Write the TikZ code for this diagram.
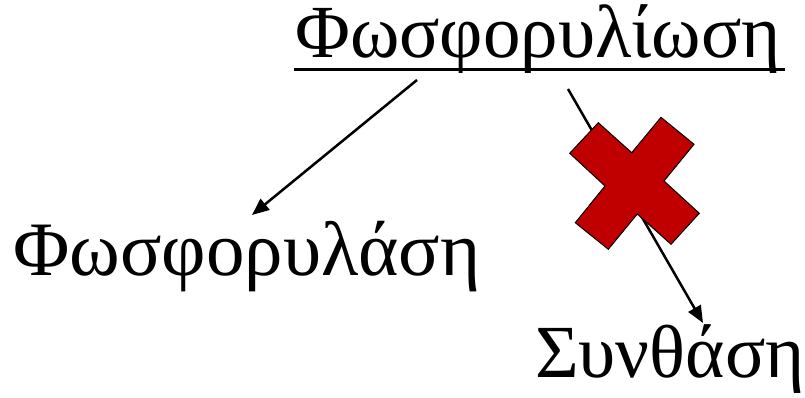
\documentclass[tikz,border=0pt]{standalone}
\usepackage{fontspec}
\setmainfont{Liberation Serif}
\usetikzlibrary{arrows.meta}
\definecolor{xred}{HTML}{C00000}
\tikzset{
  lbl/.style={inner sep=0pt, anchor=base west},
  conn/.style={line width=2.5pt, -{Triangle[length=17pt,width=14pt]}},
  cross/.style={fill=xred, draw=black, line width=1pt, line join=miter}
}
\begin{document}
\begin{tikzpicture}[x=1pt,y=1pt]
\useasboundingbox (0,0) rectangle (805,398);
% texts
\node[lbl, font=\fontsize{75}{86}\selectfont, text height=54pt, text depth=17pt] (t) at (295,340) {Φωσφορυλίωση};
\draw[line width=3pt] (294,328.5) -- (785,328.5);
\node[lbl, font=\fontsize{77}{88}\selectfont] (p) at (13,122) {Φωσφορυλάση};
\node[lbl, font=\fontsize{75}{86}\selectfont] (s) at (535,20) {Συνθάση};
% connector end points
\coordinate (a1s) at (417,318);
\coordinate (a1e) at (252,183);
\coordinate (a2s) at (568,309);
\coordinate (a2e) at (703,75);
\draw[conn] (a1s) -- (a1e);
\draw[conn] (a2s) -- (a2e);
% red cross
\draw[cross] (598.3,275.3) -- (631.7,245.3) -- (661,280.7) -- (694,253.7) -- (664,217) -- (699.3,184.7) -- (671,153.7) -- (637.3,184) -- (608.3,148.7) -- (575.3,175.3) -- (605,212) -- (569.7,244.7) -- cycle;
\end{tikzpicture}
\end{document}
